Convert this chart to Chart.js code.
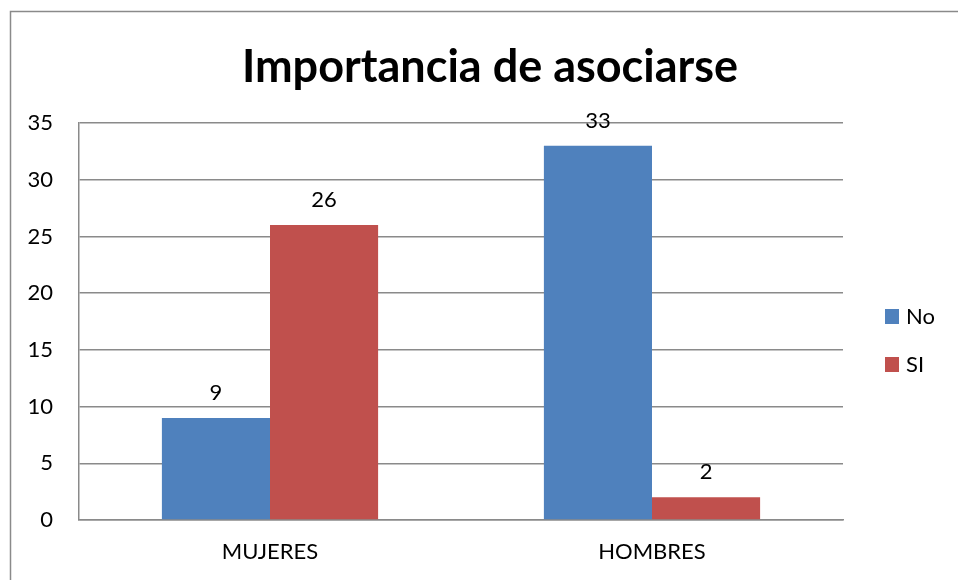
<!DOCTYPE html>
<html>
<head>
<meta charset="utf-8">
<script src="https://cdn.jsdelivr.net/npm/chart.js@4"></script>
<style>
  body { margin: 0; background: #fff; }
  #wrap { width: 958px; height: 580px; }
</style>
</head>
<body>
<div id="wrap"><canvas id="grafico" width="958" height="580"></canvas></div>
<script>
const categorias = ["MUJERES", "HOMBRES"];
const valoresNo = [9, 33];
const valoresSi = [26, 2];
const serieNombres = ["No", "SI"];
const colores = ["#4F81BD", "#C0504D"];
const tituloTexto = "Importancia de asociarse";
const fuente = "Lato, 'Liberation Sans', sans-serif";

// marco gris y titulo
const marco = {
  id: "marco",
  beforeDraw(chart) {
    const ctx = chart.ctx;
    ctx.save();
    ctx.fillStyle = "#fff";
    ctx.fillRect(0, 0, chart.width, chart.height);
    ctx.strokeStyle = "#8a8a8a";
    ctx.lineWidth = 1.5;
    ctx.strokeRect(10.5, 11.5, chart.width + 20, chart.height + 20);
    ctx.font = "bold 45px " + fuente;
    ctx.fillStyle = "#000";
    ctx.textAlign = "center";
    ctx.textBaseline = "alphabetic";
    ctx.fillText(tituloTexto, 490, 82);
    ctx.restore();
  },
};

// numeros encima de las barras
const etiquetas = {
  id: "etiquetas",
  afterDatasetsDraw(chart) {
    const ctx = chart.ctx;
    ctx.save();
    ctx.font = "22px " + fuente;
    ctx.fillStyle = "#000";
    ctx.textAlign = "center";
    ctx.textBaseline = "alphabetic";
    chart.data.datasets.forEach((ds, i) => {
      chart.getDatasetMeta(i).data.forEach((barra, j) => {
        ctx.fillText(ds.data[j], barra.x, barra.y - 18);
      });
    });
    ctx.restore();
  },
};

// leyenda a la derecha
const leyenda = {
  id: "leyenda",
  afterDraw(chart) {
    const ctx = chart.ctx;
    ctx.save();
    ctx.font = "22px " + fuente;
    ctx.textBaseline = "middle";
    ctx.textAlign = "left";
    chart.data.datasets.forEach((ds, i) => {
      const y = 316 + i * 48;
      ctx.fillStyle = ds.backgroundColor;
      ctx.fillRect(885, y - 7, 14, 15);
      ctx.fillStyle = "#000";
      ctx.fillText(ds.label, 906, y + 1);
    });
    ctx.restore();
  },
};

new Chart(document.querySelector("#grafico"), {
  type: "bar",
  data: {
    labels: categorias,
    datasets: [
      { label: serieNombres[0], data: valoresNo, backgroundColor: colores[0] },
      { label: serieNombres[1], data: valoresSi, backgroundColor: colores[1] },
    ],
  },
  options: {
    responsive: false,
    animation: false,
    events: [],
    categoryPercentage: 0.566,
    barPercentage: 1,
    layout: { padding: { left: 0, right: 115, top: 123, bottom: 0 } },
    plugins: {
      legend: { display: false },
      tooltip: { enabled: false },
      title: { display: false },
    },
    scales: {
      x: {
        grid: { display: false, drawTicks: false },
        border: { display: true, color: "#8a8a8a", width: 1.5 },
        ticks: { color: "#000", font: { family: fuente, size: 22 }, padding: 19 },
        afterFit(s) { s.height = 60; },
      },
      y: {
        min: 0,
        max: 35,
        ticks: { stepSize: 5, color: "#000", font: { family: fuente, size: 22 }, padding: 26 },
        grid: { color: "#8a8a8a", lineWidth: 1.5, drawTicks: false },
        border: { display: true, color: "#8a8a8a", width: 1.5 },
        afterFit(s) { s.width = 79; },
      },
    },
  },
  plugins: [marco, etiquetas, leyenda],
});
</script>
</body>
</html>
